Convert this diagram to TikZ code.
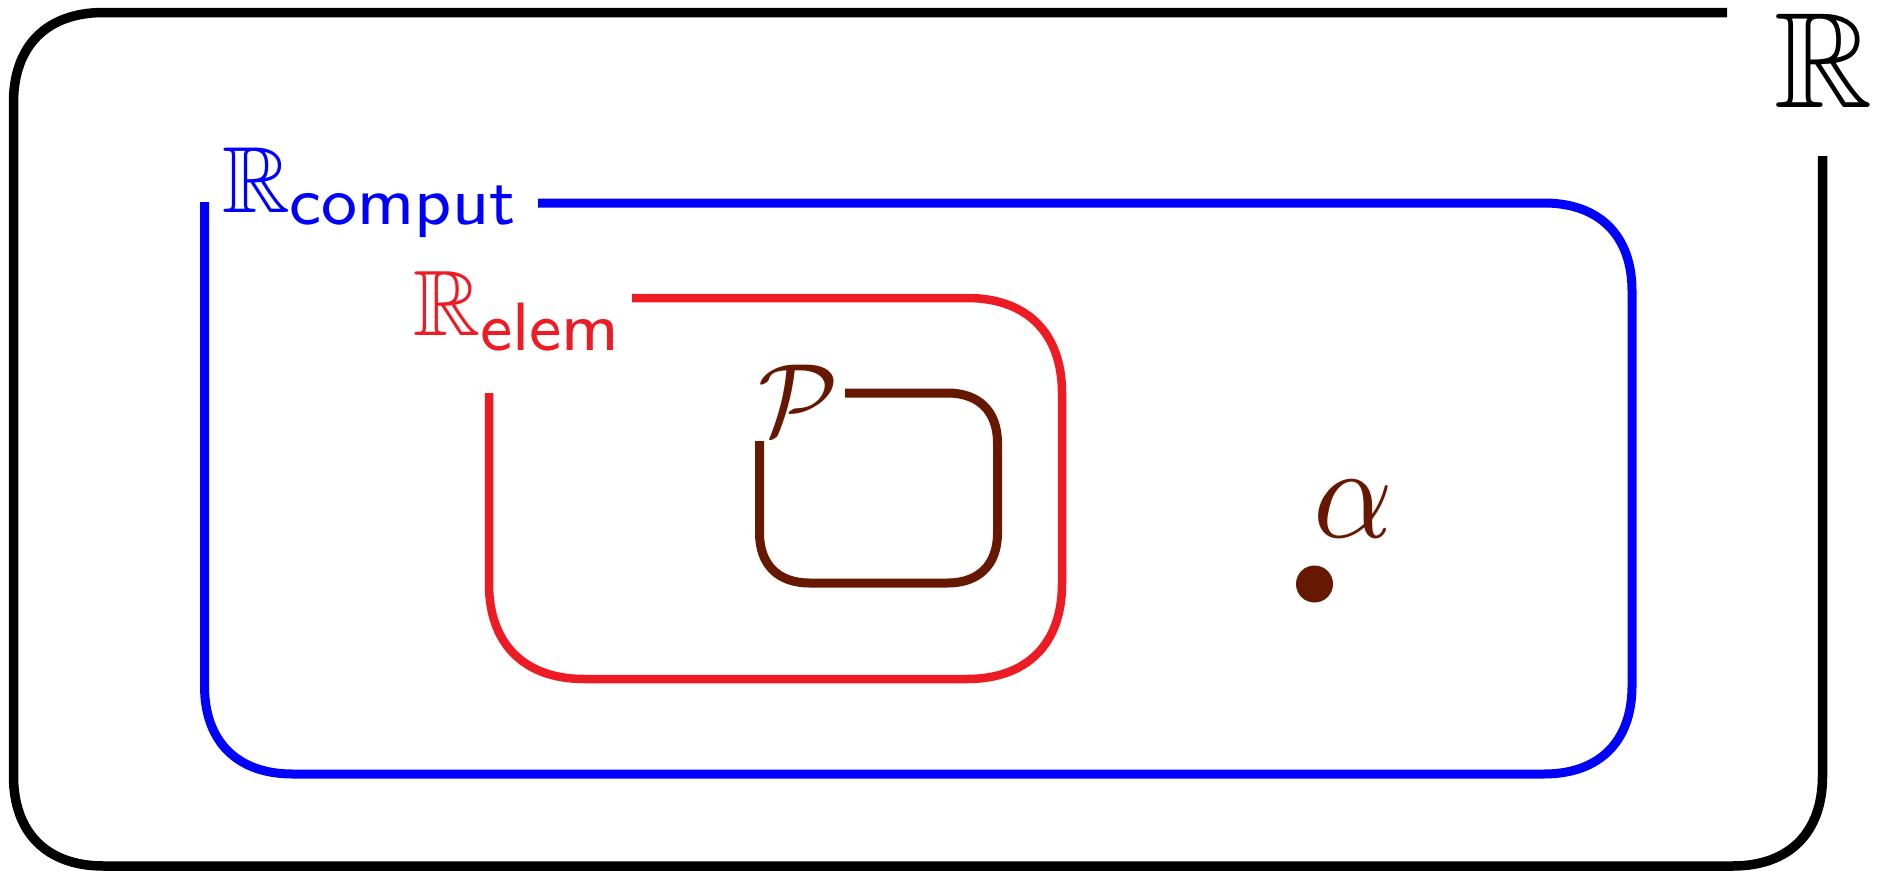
\documentclass[tikz,border=0pt]{standalone}
\usepackage{fontspec}
\usepackage{amssymb}
\usepackage{graphicx}
\definecolor{setblue}{RGB}{0,0,255}
\definecolor{setred}{RGB}{237,28,36}
\definecolor{setbrown}{RGB}{102,24,0}
\begin{document}
\begin{tikzpicture}[x=1pt,y=-1pt,
  setline/.style={line width=#1, line cap=butt, line join=round},
  lbl/.style={inner sep=0pt, outer sep=0pt, anchor=base west}]
\useasboundingbox (0,0) rectangle (1878,870);
% outer set R
\draw[setline=9.5pt, black]
  (1727,12.5) -- (103.5,12.5) .. controls (46.8,12.5) and (13.5,45.8) .. (13.5,102.5)
  -- (13.5,776) .. controls (13.5,832.7) and (46.8,866) .. (103.5,866)
  -- (1732.5,866) .. controls (1789.2,866) and (1822.5,832.7) .. (1822.5,776)
  -- (1822.5,156);
% R_comput
\draw[setline=9pt, setblue]
  (538,203) -- (1544,203) .. controls (1599.4,203) and (1632,235.6) .. (1632,291)
  -- (1632,686) .. controls (1632,741.4) and (1599.4,774) .. (1544,774)
  -- (292.5,774) .. controls (237.1,774) and (204.5,741.4) .. (204.5,686)
  -- (204.5,202);
% R_elem
\draw[setline=8.5pt, setred]
  (632,298) -- (967,298) .. controls (1026.85,298) and (1062,333.15) .. (1062,393)
  -- (1062,584) .. controls (1062,643.85) and (1026.85,679) .. (967,679)
  -- (584,679) .. controls (524.15,679) and (489,643.85) .. (489,584)
  -- (489,393);
% P
\draw[setline=9pt, setbrown]
  (845,393) -- (947.5,393) .. controls (979,393) and (997.5,411.5) .. (997.5,443)
  -- (997.5,533) .. controls (997.5,564.5) and (979,583) .. (947.5,583)
  -- (809.5,583) .. controls (778,583) and (759.5,564.5) .. (759.5,533)
  -- (759.5,441);
% point alpha
\fill[setbrown] (1314.5,584) circle (18.5pt);
% labels
\node[lbl] (lR) at (1774,107) {\scalebox{13.6}{$\mathbb{R}$}};
\node[lbl, text=setblue] (lcomput) at (222,212)
  {\scalebox{9.4}{$\mathbb{R}$\raisebox{-1.3pt}{\fontsize{7.2}{8}\selectfont\sffamily comput}}};
\node[lbl, text=setred] (lelem) at (413,335)
  {\scalebox{9.3}{$\mathbb{R}$\raisebox{-1.7pt}{\fontsize{7.35}{8}\selectfont\sffamily elem}}};
\node[lbl, text=setbrown] (lP) at (758,435) {\scalebox{10.3}{$\mathcal{P}$}};
\node[lbl, text=setbrown] (lalpha) at (1313,537) {\scalebox{12.4}[13.2]{$\alpha$}};
\end{tikzpicture}
\end{document}
